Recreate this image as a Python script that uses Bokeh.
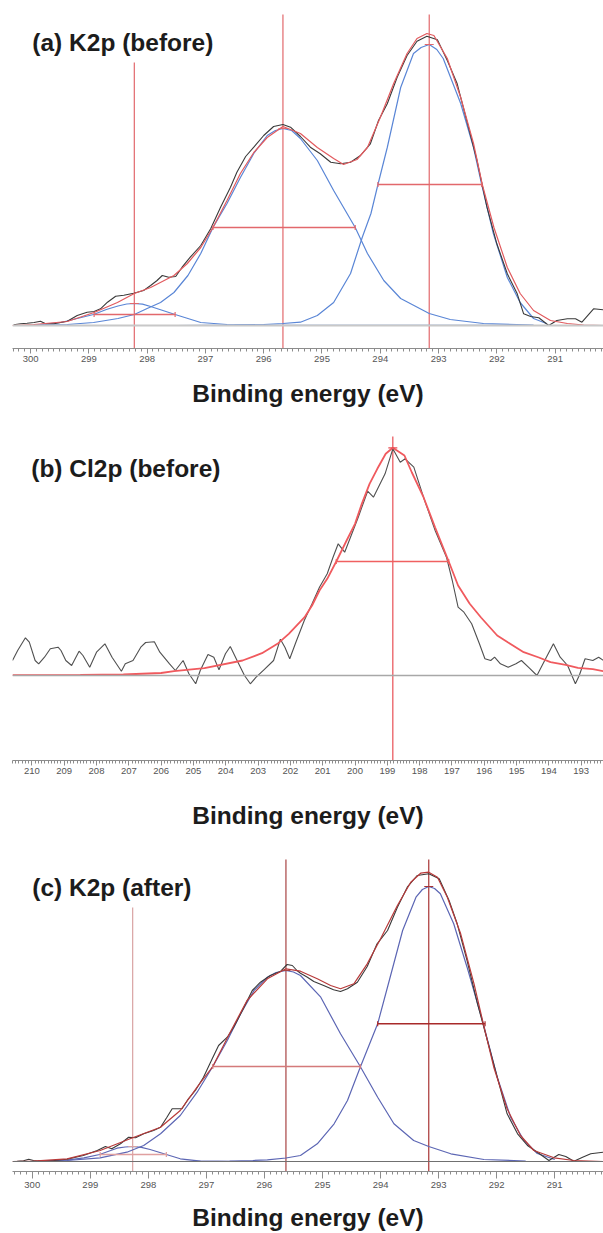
from bokeh.plotting import figure
from bokeh.models import Range1d, Label, SingleIntervalTicker, Span, ColumnDataSource
from bokeh.layouts import column
from bokeh.embed import file_html
from bokeh.resources import INLINE
from math import pi

# ---------------- panel (a) K2p before ----------------
a_raw_e = [300.29, 300.17, 300.06, 299.94, 299.83, 299.74, 299.60, 299.37, 299.20, 299.03,
           298.91, 298.80, 298.68, 298.54, 298.40, 298.23, 298.06, 297.94, 297.83, 297.74,
           297.63, 297.51, 297.40, 297.26, 297.08, 296.91, 296.74, 296.57, 296.46, 296.31,
           296.17, 296.00, 295.83, 295.67, 295.54, 295.37, 295.20, 295.03, 294.85, 294.68,
           294.51, 294.34, 294.17, 294.03, 293.88, 293.71, 293.54, 293.37, 293.20, 293.02,
           292.85, 292.68, 292.51, 292.34, 292.17, 292.00, 291.82, 291.65, 291.54, 291.42,
           291.28, 291.11, 290.97, 290.79, 290.65, 290.54, 290.34, 290.17]
a_raw_i = [0.7, 1.7, 2.3, 3, 4.3, 1.7, 1.7, 4.3, 10, 13.3,
           14, 16.7, 23.3, 29.3, 30.3, 32.3, 35, 40, 45, 50,
           48.3, 49, 58.3, 68.3, 80, 96.7, 118.3, 138.3, 153.3, 169,
           178.3, 190, 199, 201, 198.3, 189, 178.3, 171.7, 163.3, 161.7,
           163.3, 170, 181.7, 205, 221.7, 248.3, 270, 284.3, 289.3, 285.7,
           265, 241.7, 203.3, 165, 118.3, 81.7, 51.7, 31.7, 11.7, 9,
           7.7, 0, 5, 6.7, 6.7, 3.3, 16.7, 15.7]
a_env_e = [300.31, 299.94, 299.37, 298.91, 298.51, 298.22, 297.94, 297.54, 297.31, 297.08,
           296.87, 296.63, 296.40, 296.17, 295.94, 295.67, 295.37, 295.08, 294.80, 294.63,
           294.40, 294.22, 294.00, 293.77, 293.54, 293.37, 293.20, 293.08, 292.85, 292.62,
           292.40, 292.25, 292.05, 291.82, 291.60, 291.37, 291.08, 290.79, 290.51, 290.17]
a_env_i = [0, 1, 4, 13, 23, 32, 38, 50, 62, 78,
           98, 125, 152, 173, 188, 199, 192, 178, 167, 161,
           166, 178, 208, 242, 272, 287, 292, 290, 267, 228,
           182, 141, 98, 58, 32, 15, 5, 2, 0.5, 0]
a_p1_e = [299.95, 297.5, 296.5, 296.0, 295.67, 295.37, 295.08, 294.80, 294.51, 294.31,
          294.16, 294.04, 293.88, 293.65, 293.43, 293.30, 293.16, 293.03, 292.92, 292.62,
          292.40, 292.26, 292.06, 291.82, 291.60, 291.37, 291.15]
a_p1_i = [0, 0, 0.3, 1, 2, 3.3, 10, 23, 52, 88,
          112, 141, 178, 238, 272, 278, 281, 276, 267, 222,
          178, 141, 92, 48, 23, 7, 2]
a_p2_e = [299.95, 299.37, 298.92, 298.50, 298.22, 298.00, 297.77, 297.54, 297.30, 297.08,
          296.87, 296.63, 296.40, 296.17, 295.94, 295.80, 295.67, 295.52, 295.37, 295.08,
          294.80, 294.57, 294.43, 294.22, 293.94, 293.65, 293.16, 292.80, 292.23, 291.37]
a_p2_i = [0.3, 1, 3, 7, 11, 17, 23, 33, 50, 72,
          98, 122, 148, 172, 190, 195, 197, 195, 187, 165,
          135, 112, 98, 72, 45, 27, 12, 6, 2, 0.3]
a_p3_e = [299.95, 299.83, 299.48, 299.20, 298.92, 298.70, 298.50, 298.35, 298.22, 298.08,
          297.94, 297.73, 297.52, 297.30, 297.08, 296.63, 296.00, 291.37]
a_p3_i = [0.5, 1, 3, 7, 11, 16, 19.5, 21.5, 22, 21.3,
          19, 15, 11, 7, 3, 1, 0.3, 0]
a_centers = [298.22, 295.67, 293.16]
a_tops = [263, 311, 311]
a_heights = [22, 197, 281]
a_fwhm_lo = [298.91, 296.87, 294.04]
a_fwhm_hi = [297.52, 294.43, 292.26]
a_half = [11, 98, 141]

# ---------------- panel (b) Cl2p before ----------------
b_raw_e = [210.60, 210.44, 210.20, 210.08, 209.90, 209.79, 209.61, 209.43, 209.19, 209.10,
           208.95, 208.77, 208.54, 208.42, 208.21, 208.00, 207.74, 207.52, 207.23, 207.11,
           206.87, 206.63, 206.48, 206.21, 206.04, 205.74, 205.56, 205.32, 205.14, 204.93,
           204.79, 204.55, 204.37, 204.21, 204.01, 203.86, 203.65, 203.42, 203.24, 203.06,
           202.82, 202.52, 202.31, 202.17, 202.02, 201.83, 201.57, 201.33, 201.10, 200.86,
           200.68, 200.52, 200.32, 199.90, 199.61, 199.43, 199.07, 198.83, 198.60, 198.45,
           198.18, 197.88, 197.52, 197.17, 196.99, 196.81, 196.63, 196.39, 196.15, 195.98,
           195.80, 195.68, 195.50, 195.26, 195.02, 194.85, 194.61, 194.37, 194.13, 193.86,
           193.65, 193.42, 193.18, 193.06, 192.88, 192.64, 192.46, 192.31]
b_raw_i = [15, 25, 37.7, 33.3, 15, 11.7, 18.3, 26.7, 28.3, 25,
           15, 10, 24.3, 20, 8.3, 23.3, 31.7, 18.3, 4.3, 11.7,
           15, 28.3, 33, 33.7, 23.3, 11.7, 5, 15, 1.7, -8.3,
           5, 21, 18.3, 5.7, 21.7, 29, 15, 0, -8.3, -1.7,
           5.7, 15, 36.3, 28.3, 16.7, 33.3, 55, 71.7, 88.3, 101.7,
           118.3, 131.7, 123.3, 158.3, 184.3, 178.3, 201.7, 226.7, 213.3, 216.7,
           208.3, 178.3, 145, 118.3, 95, 68.3, 63.3, 51.7, 31.7, 16.7,
           15, 18.3, 11.7, 8.3, 11.7, 15, 7.7, 0, 15, 31.7,
           18.3, 10, -8.3, 0, 16.7, 15, 18.3, 15]
b_env_e = [210.60, 208.50, 207.17, 206.00, 205.60, 204.66, 203.48, 202.88, 202.40, 202.05,
           201.56, 201.33, 201.10, 200.86, 200.58, 200.26, 200.00, 199.79, 199.55, 199.31,
           199.05, 198.83, 198.47, 198.24, 197.88, 197.52, 197.10, 196.81, 196.45, 196.10,
           195.60, 195.26, 194.78, 194.31, 193.95, 193.48, 193.10, 192.64, 192.30]
b_env_i = [0.3, 0.6, 1.0, 2.5, 4.3, 7.3, 15, 22.3, 31.7, 41.7,
           58.3, 70, 85, 96.7, 114, 135, 151.7, 171.7, 191.7, 206.7,
           221.7, 227.7, 220, 203, 178.3, 148, 114, 90, 71.7, 58,
           40, 33, 23.3, 18, 13.3, 10.7, 7.7, 6.3, 4.3]
b_centers = [198.83]
b_tops = [239]
b_heights = [227.7]
b_fwhm_lo = [200.58]
b_fwhm_hi = [197.10]
b_half = [114]

# ---------------- panel (c) K2p after ----------------
c_raw_e = [300.26, 300.15, 300.06, 299.98, 299.86, 299.63, 299.40, 299.12, 298.88, 298.74,
           298.63, 298.48, 298.34, 298.22, 298.08, 297.91, 297.79, 297.68, 297.59, 297.42,
           297.31, 297.19, 297.05, 296.90, 296.79, 296.64, 296.53, 296.38, 296.21, 296.07,
           295.90, 295.72, 295.61, 295.52, 295.44, 295.38, 295.26, 295.15, 294.98, 294.81,
           294.69, 294.57, 294.40, 294.23, 294.06, 293.88, 293.71, 293.54, 293.37, 293.17,
           292.99, 292.82, 292.68, 292.51, 292.33, 292.16, 291.99, 291.82, 291.64, 291.47,
           291.30, 291.10, 290.93, 290.81, 290.67, 290.52, 290.38, 290.16]
c_raw_i = [0.3, 0.7, 2.3, 1, 0.3, 1, 2.3, 6, 11, 15,
           12.7, 17.7, 24.3, 23.7, 27.7, 31, 34.3, 44.3, 52.7, 52.7,
           62.7, 71, 84.3, 102.7, 116, 124.3, 134.3, 151, 171, 179.3,
           186, 190.3, 197, 196, 191, 188.3, 184.3, 180, 176, 171.7,
           170, 172.7, 179.3, 195, 217.7, 231, 254.3, 274.3, 286, 287.7,
           282.7, 261, 237.7, 201, 157.7, 121, 84.3, 47.7, 27.7, 16,
           9.3, 1, 7, 5, 0.3, 4.3, 7.7, 9.3]
c_env_e = [300.34, 299.98, 299.40, 298.83, 298.27, 297.79, 297.45, 297.16, 296.89, 296.59,
           296.30, 295.95, 295.63, 295.38, 295.09, 294.86, 294.69, 294.46, 294.23, 294.00,
           293.71, 293.48, 293.31, 293.17, 293.02, 292.85, 292.62, 292.39, 292.23, 292.05,
           291.82, 291.59, 291.36, 291.01, 290.67, 290.16]
c_env_i = [0, 0.3, 2.7, 11, 23.7, 34.3, 51, 74.3, 95, 129.3,
           161, 182.7, 192.7, 190.3, 182.7, 176, 172.7, 177.7, 197.7, 222.7,
           256, 279.3, 288.3, 289.3, 284.3, 264.3, 227.7, 177.7, 137.7, 94.3,
           52.7, 26, 11, 3.7, 1, 0]
c_p1_e = [299.90, 297.50, 296.60, 296.20, 295.95, 295.63, 295.38, 295.09, 294.80, 294.57,
          294.35, 294.05, 293.85, 293.62, 293.39, 293.28, 293.17, 293.07, 292.97, 292.74,
          292.51, 292.23, 291.99, 291.76, 291.53, 291.30, 291.00]
c_p1_i = [0, 0, 0.3, 1, 1.7, 3.5, 6, 17.7, 37.7, 61,
          94.3, 137.7, 181, 231, 264.3, 272, 275, 273, 267.7, 237.7,
          194.3, 137.7, 84.3, 44.3, 21, 8, 2]
c_p2_e = [299.90, 299.40, 298.83, 298.37, 298.08, 297.79, 297.45, 297.16, 296.89, 296.64,
          296.41, 296.18, 295.95, 295.80, 295.63, 295.50, 295.38, 295.03, 294.69, 294.35,
          294.05, 293.77, 293.43, 293.17, 292.79, 292.22, 291.50]
c_p2_i = [0.3, 1, 3.7, 9.3, 16, 27.7, 46, 69.3, 95, 121,
          147.7, 171, 184.3, 189, 191, 189.5, 186, 164.3, 127.7, 95,
          64.3, 37.7, 21, 15, 7.7, 2, 0.5]
c_p3_e = [299.90, 299.40, 299.11, 298.84, 298.54, 298.40, 298.27, 298.12, 297.97, 297.69,
          297.45, 297.10, 296.50, 291.50]
c_p3_i = [0.5, 1.3, 3.7, 7, 13.3, 14.5, 15, 14.2, 12, 7,
          2.7, 0.3, 0, 0]
c_centers = [298.27, 295.63, 293.17]
c_tops = [254, 302, 302]
c_heights = [15, 191, 275]
c_fwhm_lo = [298.83, 296.89, 294.05]
c_fwhm_hi = [297.69, 294.35, 292.20]
c_half = [7, 95, 137.7]

titles = ["(a) K2p (before)", "(b) Cl2p (before)", "(c) K2p (after)"]
AXIS_TITLE = "Binding energy (eV)"
FONT = "Liberation Sans"
W = 603


def make_panel(cfg):
    h = cfg["height"]
    p = figure(width=W, height=h, x_range=Range1d(*cfg["xr"]), y_range=Range1d(*cfg["yr"]),
               output_backend="svg", toolbar_location=None, y_axis_location=None,
               min_border_left=12, min_border_right=0, min_border_top=0,
               min_border_bottom=h - cfg["frame_h"], outline_line_color=None,
               background_fill_color="white", border_fill_color="white")
    p.xgrid.visible = False
    p.ygrid.visible = False
    ax = p.xaxis[0]
    ax.ticker = SingleIntervalTicker(interval=1, num_minor_ticks=10)
    ax.axis_line_color = "#8c8c8c"
    ax.major_tick_line_color = "#8c8c8c"
    ax.minor_tick_line_color = "#8c8c8c"
    ax.major_tick_in = 0
    ax.minor_tick_in = 0
    ax.major_tick_out = cfg["tick_out"]
    ax.minor_tick_out = 3
    ax.major_label_standoff = cfg["standoff"]
    ax.major_label_text_font = "Liberation Sans Narrow, Liberation Sans"
    ax.major_label_text_font_size = "9.5px"
    ax.major_label_text_color = "#555555"
    ax.axis_label = AXIS_TITLE
    ax.axis_label_text_font = FONT
    ax.axis_label_text_font_size = "24.5px"
    ax.axis_label_text_font_style = "bold"
    ax.axis_label_text_color = "#1c1c1c"
    ax.axis_label_standoff = cfg["label_standoff"]

    p.add_layout(Span(location=0, dimension="width", line_color=cfg["base_color"],
                      line_width=cfg["base_width"]))

    ybot = cfg["yr"][0]
    n = len(cfg["centers"])
    seg = ColumnDataSource(dict(x=cfg["centers"], y0=[ybot] * n, y1=cfg["tops"],
                                c=cfg["vcolors"], lo=cfg["lo"], hi=cfg["hi"],
                                half=cfg["half"], bc=cfg["bcolors"], pk=cfg["heights"]))
    p.segment(x0="x", x1="x", y0="y0", y1="y1", line_color="c", line_width=1.2, source=seg)

    for e, i in cfg["comps"]:
        p.line(e, i, line_color=cfg["blue"], line_width=1.2)
    p.line(cfg["raw"][0], cfg["raw"][1], line_color=cfg["black"], line_width=1.1)
    p.line(cfg["env"][0], cfg["env"][1], line_color=cfg["red"], line_width=cfg["env_width"])

    p.segment(x0="lo", x1="hi", y0="half", y1="half", line_color="bc", line_width=1.4, source=seg)
    p.scatter(x="lo", y="half", marker="dash", angle=pi / 2, size=5, line_color="bc",
              line_width=1.2, source=seg)
    p.scatter(x="hi", y="half", marker="dash", angle=pi / 2, size=5, line_color="bc",
              line_width=1.2, source=seg)
    p.scatter(x="x", y="pk", marker="dash", size=9, line_color="c", line_width=1.2, source=seg)

    p.add_layout(Label(x=cfg["title_xy"][0], y=cfg["title_xy"][1], text=cfg["title"],
                       text_font=FONT, text_font_size="24.5px", text_font_style="bold",
                       text_color="#1c1c1c", text_align="left", text_baseline="middle"))
    return p


pa = make_panel(dict(height=428, frame_h=348, xr=(300.31, 290.17), yr=(-23, 325),
                     tick_out=5, standoff=2, label_standoff=15,
                     base_color="#c8c8c8", base_width=2,
                     centers=a_centers, tops=a_tops, heights=a_heights,
                     lo=a_fwhm_lo, hi=a_fwhm_hi, half=a_half,
                     vcolors=["#e2686c"] * 3, bcolors=["#e2686c"] * 3,
                     comps=[(a_p1_e, a_p1_i), (a_p2_e, a_p2_i), (a_p3_e, a_p3_i)],
                     raw=(a_raw_e, a_raw_i), env=(a_env_e, a_env_i),
                     blue="#5a86d6", black="#3a3a3a", red="#e25a5e", env_width=1.2,
                     title=titles[0], title_xy=(299.97, 283)))

pb = make_panel(dict(height=412, frame_h=332, xr=(210.60, 192.31), yr=(-85, 247),
                     tick_out=5, standoff=2, label_standoff=25,
                     base_color="#a8a8a8", base_width=1.5,
                     centers=b_centers, tops=b_tops, heights=b_heights,
                     lo=b_fwhm_lo, hi=b_fwhm_hi, half=b_half,
                     vcolors=["#e84f55"], bcolors=["#f06060"],
                     comps=[],
                     raw=(b_raw_e, b_raw_i), env=(b_env_e, b_env_i),
                     blue="#5a86d6", black="#505050", red="#f05a5e", env_width=1.8,
                     title=titles[1], title_xy=(210.02, 207.5)))

pc = make_panel(dict(height=393, frame_h=331, xr=(300.34, 290.16), yr=(-10, 321),
                     tick_out=7, standoff=3, label_standoff=13,
                     base_color="#707070", base_width=1.2,
                     centers=c_centers, tops=c_tops, heights=c_heights,
                     lo=c_fwhm_lo, hi=c_fwhm_hi, half=c_half,
                     vcolors=["#d9a3a3", "#a84444", "#a83434"],
                     bcolors=["#e0a0a0", "#d47a7a", "#a82a2a"],
                     comps=[(c_p1_e, c_p1_i), (c_p2_e, c_p2_i), (c_p3_e, c_p3_i)],
                     raw=(c_raw_e, c_raw_i), env=(c_env_e, c_env_i),
                     blue="#5c66b4", black="#3a3a3a", red="#b83a3a", env_width=1.2,
                     title=titles[2], title_xy=(300.0, 274)))

layout = column(pa, pb, pc, spacing=0)
open("out.html", "w").write(file_html(layout, INLINE))
